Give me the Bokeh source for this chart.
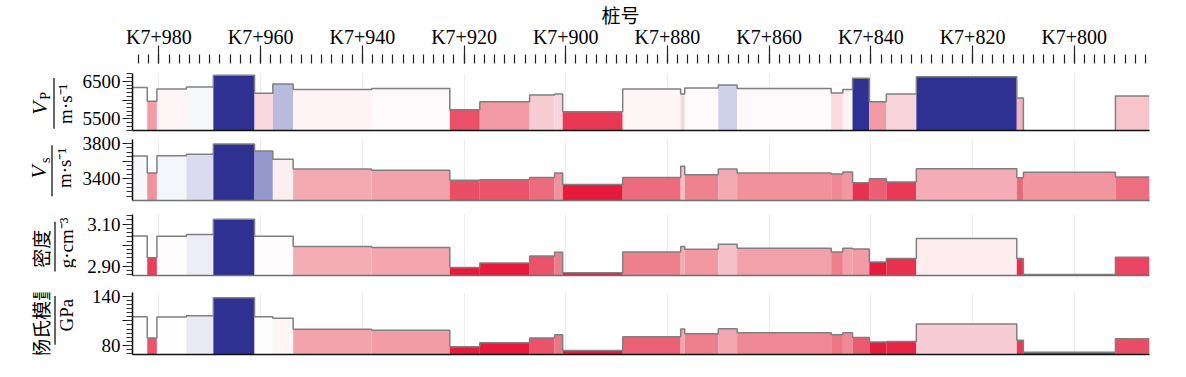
import math
from bokeh.plotting import figure
from bokeh.layouts import column, row
from bokeh.models import Range1d, FixedTicker, Grid, CustomJSTickFormatter
from bokeh.core.properties import value
from bokeh.embed import file_html
from bokeh.resources import INLINE

# ---------------- data ----------------
# pile numbers (K7+xxx, metres) and their labels
pile_ticks = [980, 960, 940, 920, 900, 880, 860, 840, 820, 800]
pile_labels = ["K7+980", "K7+960", "K7+940", "K7+920", "K7+900",
               "K7+880", "K7+860", "K7+840", "K7+820", "K7+800"]
pile_minor = list(range(786, 986, 2))

# segment boundaries along the tunnel (metres after K7), left to right
edges = [985.2, 982.3, 980.4, 974.6, 969.3, 961.2, 957.6, 953.6, 938.2, 922.8,
         916.9, 907.1, 902.2, 900.6, 888.8, 877.4, 876.6, 870.0, 866.3, 847.8,
         845.5, 843.6, 840.3, 836.95, 831.05, 811.3, 810.0, 791.9, 785.2]

nan = float("nan")
vp = [6341, 5969, 6297, 6350, 6669, 6182, 6430, 6288, 6315, 5747,
      5960, 6138, 6164, 5694, 6297, 6164, 6323, 6403, 6315, 6191,
      6288, 6583, 5960, 6164, 6625, 6057, nan, 6111]
vs = [3659, 3464, 3661, 3678, 3796, 3716, 3621, 3510, 3495, 3381,
      3388, 3415, 3464, 3335, 3415, 3541, 3445, 3510, 3464, 3453,
      3476, 3354, 3400, 3362, 3514, 3411, 3472, 3419]
density = [3.044, 2.941, 3.043, 3.051, 3.124, 3.043, 3.043, 2.994, 2.990, 2.895,
           2.916, 2.949, 2.967, 2.870, 2.968, 2.994, 2.981, 3.005, 2.986, 2.968,
           2.986, 2.983, 2.921, 2.937, 3.032, 2.937, 2.862, 2.943]
young = [115.1, 89.0, 114.7, 116.3, 138.0, 115.1, 113.1, 99.6, 98.4, 78.4,
         83.3, 89.0, 93.1, 73.9, 90.6, 100.0, 94.3, 100.4, 95.5, 93.1,
         95.5, 89.8, 84.1, 84.9, 106.1, 86.5, 71.8, 88.2]

vp_ticks, vp_tick_labels = [5500, 6000, 6500], ["5500", "", "6500"]
vs_ticks, vs_tick_labels = [3400, 3600, 3800], ["3400", "", "3800"]
de_ticks, de_tick_labels = [2.9, 3.0, 3.1], ["2.90", "", "3.10"]
ym_ticks, ym_tick_labels = [80, 110, 140], ["80", "", "140"]

axis_title = "桩号"

# ---------------- colour map ----------------
RED = [(0.0, "#ffffff"), (0.10, "#fdeff1"), (0.25, "#f9d4db"), (0.45, "#f4abb4"),
       (0.60, "#f0909b"), (0.75, "#ec6b7c"), (0.88, "#e94862"), (1.0, "#e51a3c")]
BLUE = [(0.0, "#ffffff"), (0.25, "#d5d6ec"), (0.5, "#a9abd6"),
        (0.75, "#6b6fb7"), (1.0, "#2e3192")]


def _hex(c):
    return [int(c[i:i + 2], 16) for i in (1, 3, 5)]


def interp(stops, t):
    t = max(0.0, min(1.0, t))
    for (t0, c0), (t1, c1) in zip(stops[:-1], stops[1:]):
        if t <= t1:
            f = (t - t0) / (t1 - t0)
            a, b = _hex(c0), _hex(c1)
            return "#%02x%02x%02x" % tuple(round(a[k] + (b[k] - a[k]) * f) for k in range(3))
    return stops[-1][1]


def colorize(vals, lo, mid, hi):
    out = []
    for v in vals:
        if math.isnan(v):
            out.append("#ffffff")
        elif v >= mid:
            out.append(interp(BLUE, (v - mid) / (hi - mid)))
        else:
            out.append(interp(RED, (mid - v) / (mid - lo)))
    return out


def outline(vals, base):
    xs, ys = [], []
    n = len(vals)
    for i, v in enumerate(vals):
        if math.isnan(v):
            xs.append(nan)
            ys.append(nan)
            continue
        left, right = edges[i], edges[i + 1]
        if i > 0 and math.isnan(vals[i - 1]):
            xs.append(left)
            ys.append(base)
        xs += [left, right]
        ys += [v, v]
        if i < n - 1 and math.isnan(vals[i + 1]):
            xs.append(right)
            ys.append(base)
    return xs, ys


# ---------------- layout ----------------
W = 1158          # total width
LW = 76           # width of the left label strip
FL = 132          # page x of the plot frame's left edge
BR = 9
xr = Range1d(985.2, 785.2)
SERIF = "Liberation Serif"
CJK = "Noto Sans CJK SC"

JS_FMT = """
let best = 0;
for (let k = 0; k < t.length; k++) {
  if (Math.abs(t[k] - tick) < Math.abs(t[best] - tick)) best = k;
}
return l[best];
"""


def bare(width, height, x_range, y_range, bl=0, br=0, bt=0, bb=0, **kw):
    p = figure(width=width, height=height, x_range=x_range, y_range=y_range,
               output_backend="svg", toolbar_location=None,
               min_border_left=bl, min_border_right=br, min_border_top=bt,
               min_border_bottom=bb, outline_line_color=None, **kw)
    p.xgrid.visible = False
    p.ygrid.visible = False
    return p


# header with pile-number axis and its title (桩号)
hdr = bare(W, 68, xr, Range1d(0, 1), bl=FL, br=BR, bt=63,
           x_axis_location="above", y_axis_location=None)
hdr.title.text = axis_title
hdr.title.align = "left"
hdr.title.offset = 469
hdr.title.standoff = -10
hdr.title.text_font = CJK
hdr.title.text_font_size = "19px"
hdr.title.text_font_style = "normal"
hdr.title.text_color = "black"
ax = hdr.xaxis[0]
ax.ticker = FixedTicker(ticks=pile_ticks, minor_ticks=pile_minor)
ax.formatter = CustomJSTickFormatter(args=dict(t=pile_ticks, l=pile_labels), code=JS_FMT)
ax.axis_line_color = None
ax.major_tick_in = 0
ax.major_tick_out = 18
ax.minor_tick_in = 0
ax.minor_tick_out = 9
ax.major_tick_line_color = "#222222"
ax.minor_tick_line_color = "#222222"
ax.major_tick_line_width = 1.2
ax.minor_tick_line_width = 1.2
ax.major_label_standoff = -2
ax.major_label_text_font = SERIF
ax.major_label_text_font_size = "20px"
ax.major_label_text_color = "black"


def panel(height, bt, bb, yr, vals, ticks, tlabels, minor, cnorm, bottom_color):
    p = bare(W - LW, height, xr, Range1d(*yr), bl=FL - LW, br=BR, bt=bt, bb=bb)
    p.add_layout(Grid(dimension=0, ticker=FixedTicker(ticks=pile_ticks),
                      grid_line_color="#ececec", grid_line_width=1))
    base = yr[0]
    cols = colorize(vals, *cnorm)
    p.quad(left=edges[:-1], right=edges[1:], bottom=base, top=vals,
           fill_color=cols, line_color=None)
    xs, ys = outline(vals, base)
    p.line(xs, ys, line_color="#808080", line_width=1.5)

    xa = p.xaxis[0]
    xa.ticker = FixedTicker(ticks=[])
    xa.major_tick_in = 0
    xa.major_tick_out = 0
    xa.minor_tick_in = 0
    xa.minor_tick_out = 0
    xa.major_label_standoff = 0
    xa.axis_line_color = bottom_color
    xa.axis_line_width = 1.5

    ya = p.yaxis[0]
    ya.ticker = FixedTicker(ticks=ticks, minor_ticks=minor)
    ya.formatter = CustomJSTickFormatter(args=dict(t=ticks, l=tlabels), code=JS_FMT)
    ya.axis_line_color = "black"
    ya.axis_line_width = 1.5
    ya.major_tick_in = 0
    ya.major_tick_out = 10
    ya.minor_tick_in = 0
    ya.minor_tick_out = 6
    ya.major_tick_line_color = "#111111"
    ya.minor_tick_line_color = "#333333"
    ya.major_tick_line_width = 1.2
    ya.minor_tick_line_width = 1
    ya.major_label_standoff = 2
    ya.major_label_text_font = SERIF
    ya.major_label_text_font_size = "19px"
    ya.major_label_text_color = "black"
    return p


def label_strip(top, height, items, sep_x, sep_y0, sep_y1):
    """items: (text, page_x, page_y, size, font, style)"""
    p = bare(LW, height, Range1d(0, LW), Range1d(0, height),
             x_axis_location=None, y_axis_location=None)
    bottom = top + height
    for text, x, y, size, font, style in items:
        p.text(x=[x], y=[bottom - y], text=[text], angle=math.pi / 2,
               text_font=value(font), text_font_size=value(size),
               text_font_style=style, text_align="center",
               text_baseline="middle", text_color="black")
    p.segment(x0=[sep_x], y0=[bottom - sep_y0], x1=[sep_x], y1=[bottom - sep_y1],
              line_color="black", line_width=1.2)
    return p


# Vp  (page y 68 -> 132)
p1 = panel(64, 5, 2, (5190, 6713), vp, vp_ticks, vp_tick_labels,
           list(range(5200, 6800, 100)), (5640, 6340, 6560), "#111111")
l1 = label_strip(68, 64, [("V", 39, 107, "22px", SERIF, "italic"),
                          ("P", 45, 93, "14px", SERIF, "normal"),
                          ("m·s⁻¹", 65, 102, "19px", SERIF, "normal")],
                 53.5, 73, 130)

# Vs  (page y 132 -> 205)
p2 = panel(73, 7, 5, (3152, 3846), vs, vs_ticks, vs_tick_labels,
           list(range(3200, 3850, 50)), (3335, 3655, 3760), "#707070")
l2 = label_strip(132, 73, [("V", 38, 171, "22px", SERIF, "italic"),
                           ("s", 45, 157, "14px", SERIF, "normal"),
                           ("m·s⁻¹", 64, 166, "19px", SERIF, "normal")],
                 51.5, 139, 200)

# density  (page y 205 -> 280)
p3 = panel(75, 9, 5, (2.857, 3.146), density, de_ticks, de_tick_labels,
           [round(2.86 + 0.02 * k, 2) for k in range(15)], (2.93, 3.045, 3.10), "#707070")
l3 = label_strip(205, 75, [("密度", 40, 247, "19px", CJK, "normal"),
                           ("g·cm⁻³", 66, 240, "19px", SERIF, "normal")],
                 54.5, 214, 275)

# Young's modulus  (page y 280 -> 370)
p4 = panel(90, 12, 16, (69, 144.5), young, ym_ticks, ym_tick_labels,
           list(range(70, 145, 5)), (84, 115, 125), "#111111")
l4 = label_strip(280, 90, [("杨氏模量", 40, 320, "19px", CJK, "normal"),
                           ("GPa", 66, 313, "19px", SERIF, "normal")],
                 54.5, 285, 356)

layout = column(hdr, row(l1, p1, spacing=0), row(l2, p2, spacing=0),
                row(l3, p3, spacing=0), row(l4, p4, spacing=0), spacing=0)
open("out.html", "w").write(file_html(layout, INLINE))
